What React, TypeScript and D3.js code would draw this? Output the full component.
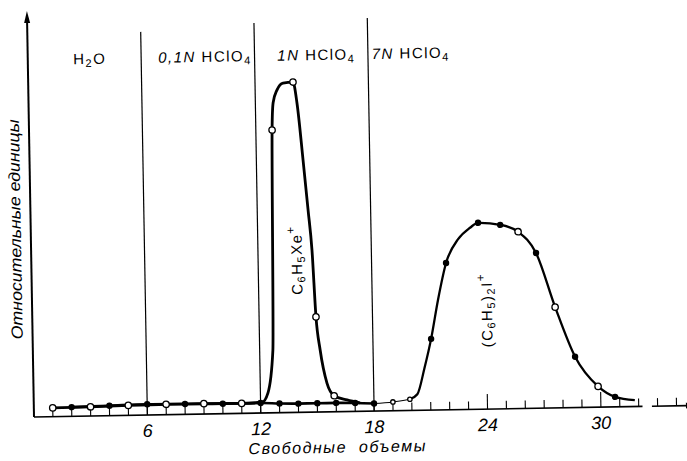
import React from "react";
import * as d3 from "d3";

const width = 687;
const height = 461;

// C6H5Xe+ (open circles), free volumes vs relative units
const xeVolume = [1, 3, 5, 7, 9, 11, 12.08, 12.4, 12.7, 12.86, 12.94, 13.16, 13.48, 14.01, 14.2, 14.47, 14.69, 14.86, 15.01, 15.2, 15.53, 15.9, 16.58, 17.26];
const xeSignal = [2.2, 2.3, 2.5, 2.6, 2.6, 2.5, 2.7, 5.0, 15.7, 70.7, 77.5, 80.7, 82.4, 82.6, 77.4, 63.1, 50.6, 40.5, 23.8, 15.5, 7.2, 4.0, 2.9, 2.1];
const xeMarker = ["o", "o", "o", "o", "o", "o", "", "", "", "o", "", "", "", "o", "", "", "", "", "o", "", "", "o", "", ""];

// (C6H5)2I+
const iodVolume = [2, 4, 6, 8, 10, 12, 13, 14, 15, 16, 17, 18, 19, 19.9, 20.3, 20.7, 21.08, 21.48, 21.94, 22.6, 23.24, 23.67, 24.84, 25.78, 26.71, 27.67, 28.68, 29.87, 30.76, 31.8];
const iodSignal = [2.3, 2.5, 2.7, 2.6, 2.5, 2.5, 2.3, 2.2, 2.2, 2.2, 2.1, 1.9, 2.2, 2.8, 4.0, 10.5, 17.8, 27.5, 36.7, 42.6, 45.4, 46.6, 46.0, 44.2, 38.8, 25.2, 12.7, 5.2, 2.5, 1.6];
const iodMarker = ["f", "f", "f", "f", "f", "f", "f", "f", "f", "f", "f", "f", "s", "s", "", "", "f", "", "f", "", "", "f", "f", "o", "f", "o", "f", "o", "f", ""];

const boundaryVolume = [6, 12, 18];
const boundaryTop = [95.8, 97.5, 98.3];

const regionStart = [2.4, 6.9, 13.2, 18.2];
const regionNorm = ["", "0,1N ", "1N ", "7N "];
const regionSalt = ["H", "HClO", "HClO", "HClO"];
const regionSub = ["2", "4", "4", "4"];
const regionTail = ["O", "", "", ""];

const tickLabels = [6, 12, 18, 24, 30];
const minorTicks = d3.range(1, 33).concat([33, 34]);

const font = "'Liberation Sans', Arial, sans-serif";

const App = () => {
  const x = d3.scaleLinear().domain([0, 34]).range([0, 34 * 18.9]);
  const y = d3.scaleLinear().domain([0, 100]).range([0, -400]);

  const line = d3
    .line<number[]>()
    .x((d) => x(d[0]))
    .y((d) => y(d[1]))
    .curve(d3.curveMonotoneX);

  const xePts = xeVolume.map((v, i) => [v, xeSignal[i]]);
  const iodPts = iodVolume.map((v, i) => [v, iodSignal[i]]);
  const iodBase = iodPts.filter((d) => d[0] <= 18);
  const iodThin = iodPts.filter((d) => d[0] >= 18 && d[0] <= 19.9);
  const iodPeak = iodPts.filter((d) => d[0] >= 19.9);

  const marker = (m, px, py, key) => {
    if (!m) return null;
    if (m === "f") return <circle key={key} cx={px} cy={py} r={3.2} fill="#000" />;
    const r = m === "s" ? 2.2 : 3.2;
    return <circle key={key} cx={px} cy={py} r={r} fill="#fff" stroke="#000" strokeWidth={1.3} />;
  };

  return (
    <svg
      width={width}
      height={height}
      style={{ position: "absolute", left: 0, top: 0, background: "#fff" }}
    >
      <rect width={width} height={height} fill="#fff" />
      <g transform="translate(34,417) rotate(-1)" fontFamily={font} fill="#000">
        {/* axes */}
        <line x1={0} y1={0} x2={0} y2={y(100)} stroke="#000" strokeWidth={2} />
        <path d={`M0,${y(101.5)} L-3,${y(98.5)} L3,${y(98.5)} Z`} fill="#000" />
        <line x1={0} y1={0} x2={x(32.2)} y2={0} stroke="#000" strokeWidth={1.6} />
        <line x1={x(32.7)} y1={0} x2={x(34.6)} y2={0} stroke="#000" strokeWidth={1.6} />
        <path d={`M${x(34.9)},0 L${x(34.5)},-3 L${x(34.5)},3 Z`} fill="#000" />
        {minorTicks.map((t) => (
          <line
            key={t}
            x1={x(t)}
            x2={x(t)}
            y1={0}
            y2={t === 24 || t === 30 ? -15 : -8}
            stroke="#000"
            strokeWidth={1.1}
          />
        ))}
        {tickLabels.map((t) => (
          <text key={t} x={x(t)} y={22} textAnchor="middle" fontSize={18} fontStyle="italic">
            {t}
          </text>
        ))}

        {/* region boundaries */}
        {boundaryVolume.map((b, i) => (
          <line
            key={b}
            x1={x(b)}
            x2={x(b)}
            y1={0}
            y2={y(boundaryTop[i])}
            stroke="#000"
            strokeWidth={1.2}
          />
        ))}
        {regionStart.map((s, i) => (
          <text key={i} x={x(s)} y={y(88)} fontSize={15} letterSpacing={1.5}>
            <tspan fontStyle="italic">{regionNorm[i]}</tspan>
            <tspan>{regionSalt[i]}</tspan>
            <tspan fontSize={11} dy={3}>
              {regionSub[i]}
            </tspan>
            <tspan dy={-3}>{regionTail[i]}</tspan>
          </text>
        ))}

        {/* curves */}
        <path d={line(xePts)} fill="none" stroke="#000" strokeWidth={2.8} />
        <path d={line(iodBase)} fill="none" stroke="#000" strokeWidth={2.6} />
        <path d={line(iodThin)} fill="none" stroke="#000" strokeWidth={1} />
        <path d={line(iodPeak)} fill="none" stroke="#000" strokeWidth={2.3} />

        {xePts.map((d, i) => marker(xeMarker[i], x(d[0]), y(d[1]), "xe" + i))}
        {iodPts.map((d, i) => marker(iodMarker[i], x(d[0]), y(d[1]), "io" + i))}

        {/* peak labels */}
        <text
          transform={`translate(${x(14.32)},${y(38.1)}) rotate(-90)`}
          textAnchor="middle"
          fontSize={15}
          letterSpacing={1.5}
        >
          C<tspan fontSize={11} dy={3}>6</tspan>
          <tspan dy={-3}>H</tspan>
          <tspan fontSize={11} dy={3}>5</tspan>
          <tspan dy={-3}>Xe</tspan>
          <tspan fontSize={12} dy={-7}>+</tspan>
        </text>
        <text
          transform={`translate(${x(24.33)},${y(24.75)}) rotate(-90)`}
          textAnchor="middle"
          fontSize={15}
          letterSpacing={1.5}
        >
          (C<tspan fontSize={11} dy={3}>6</tspan>
          <tspan dy={-3}>H</tspan>
          <tspan fontSize={11} dy={3}>5</tspan>
          <tspan dy={-3}>)</tspan>
          <tspan fontSize={11} dy={3}>2</tspan>
          <tspan dy={-3}>I</tspan>
          <tspan fontSize={12} dy={-7}>+</tspan>
        </text>

        {/* axis titles */}
        <text
          transform={`translate(-10,${y(47)}) rotate(-90)`}
          textAnchor="middle"
          fontSize={16}
          fontStyle="italic"
          textLength={220}
          lengthAdjust="spacingAndGlyphs"
        >
          Относительные единицы
        </text>
        <text
          x={x(16)}
          y={41}
          textAnchor="middle"
          fontSize={16}
          fontStyle="italic"
          textLength={177}
          lengthAdjust="spacing"
          style={{ whiteSpace: "pre" }}
        >
          {"Свободные  объемы"}
        </text>
      </g>
    </svg>
  );
};

export default App;
